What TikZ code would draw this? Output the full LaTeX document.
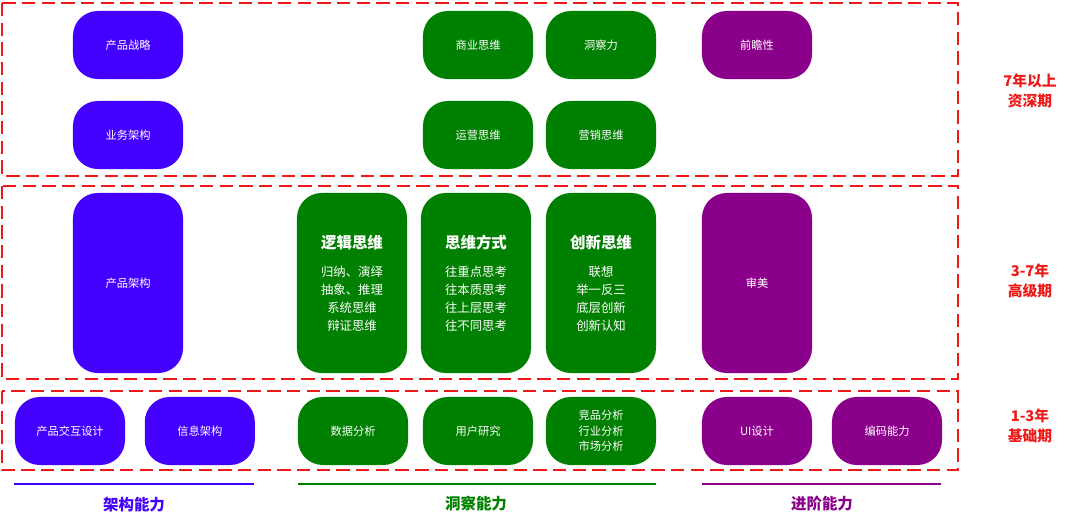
\documentclass[tikz,border=0pt]{standalone}
\usepackage{fontspec}
\setmainfont{Noto Sans CJK SC}
\usepackage{tikz}
\usetikzlibrary{positioning}
\definecolor{archblue}{HTML}{4400FF}
\definecolor{insgreen}{HTML}{008000}
\definecolor{advpurple}{HTML}{8B008B}
\definecolor{lvlred}{HTML}{EE1A1A}
\tikzstyle{skill} = [rectangle, rounded corners=0.62cm, minimum width=2.75cm, minimum height=1.7cm, text centered, text=white, font=\fontsize{8}{11}\selectfont, align=center, inner sep=0pt]
\tikzstyle{tallskill} = [skill, minimum height=4.5cm, font=\fontsize{8.8}{12.8}\selectfont]
\tikzstyle{arch} = [skill, fill=archblue]
\tikzstyle{insight} = [skill, fill=insgreen]
\tikzstyle{advance} = [skill, fill=advpurple]
\tikzstyle{stage} = [draw=lvlred, line width=1.4pt, dash pattern=on 9.5pt off 4.5pt]
\tikzstyle{stagelabel} = [text=lvlred, font=\fontsize{10.5}{14}\selectfont\bfseries, align=center]
\tikzstyle{grouplabel} = [font=\fontsize{11}{13}\selectfont\bfseries]
\newcommand{\bigtitle}[1]{{\fontsize{11}{14}\selectfont\bfseries #1}}
\begin{document}
\begin{tikzpicture}[x=0.025cm, y=-0.025cm]
\useasboundingbox (0,0) rectangle (1080,521);
\draw [stage] (2,3) rectangle (958,176);
\draw [stage] (2,186) rectangle (958,379);
\draw [stage] (2,391) rectangle (958,470);
\node (senior) [stagelabel] at (1030,91) {7年以上\\资深期};
\node (middle) [stagelabel] at (1030,281) {3-7年\\高级期};
\node (junior) [stagelabel] at (1030,426) {1-3年\\基础期};
\node (strategy) [arch] at (128,45) {产品战略};
\node (bizarch) [arch] at (128,135) {业务架构};
\node (prodarch) [arch, tallskill] at (128,283) {\fontsize{8}{11}\selectfont 产品架构};
\node (interact) [arch] at (70,431) {产品交互设计};
\node (infoarch) [arch, right=0.48cm of interact] {信息架构};
\node (business) [insight] at (478,45) {商业思维};
\node (operate) [insight] at (478,135) {运营思维};
\node (insightful) [insight] at (601,45) {洞察力};
\node (marketing) [insight] at (601,135) {营销思维};
\node (logic) [insight, tallskill] at (352,283) {\bigtitle{逻辑思维}\\[7pt]归纳、演绎\\抽象、推理\\系统思维\\辩证思维};
\node (thinkway) [insight, tallskill] at (476,283) {\bigtitle{思维方式}\\[7pt]往重点思考\\往本质思考\\往上层思考\\往不同思考};
\node (innovate) [insight, tallskill] at (601,283) {\bigtitle{创新思维}\\[7pt]联想\\举一反三\\底层创新\\创新认知};
\node (data) [insight] at (353,431) {数据分析};
\node (user) [insight] at (478,431) {用户研究};
\node (compete) [insight] at (601,431) {竞品分析\\行业分析\\市场分析};
\node (foresight) [advance] at (757,45) {前瞻性};
\node (aesthetic) [advance, tallskill] at (757,283) {\fontsize{8}{11}\selectfont 审美};
\node (uidesign) [advance] at (757,431) {UI设计};
\node (coding) [advance] at (887,431) {编码能力};
\coordinate (archL) at (14,484);
\coordinate (archR) at (254,484);
\coordinate (insL) at (298,484);
\coordinate (insR) at (656,484);
\coordinate (advL) at (702,484);
\coordinate (advR) at (941,484);
\draw [archblue, line width=2pt] (archL) -- (archR);
\draw [insgreen, line width=2pt] (insL) -- (insR);
\draw [advpurple, line width=2pt] (advL) -- (advR);
\node (archtext) [grouplabel, text=archblue] at (134,505) {架构能力};
\node (instext) [grouplabel, text=insgreen] at (476,504) {洞察能力};
\node (advtext) [grouplabel, text=advpurple] at (822,504) {进阶能力};
\end{tikzpicture}
\end{document}
